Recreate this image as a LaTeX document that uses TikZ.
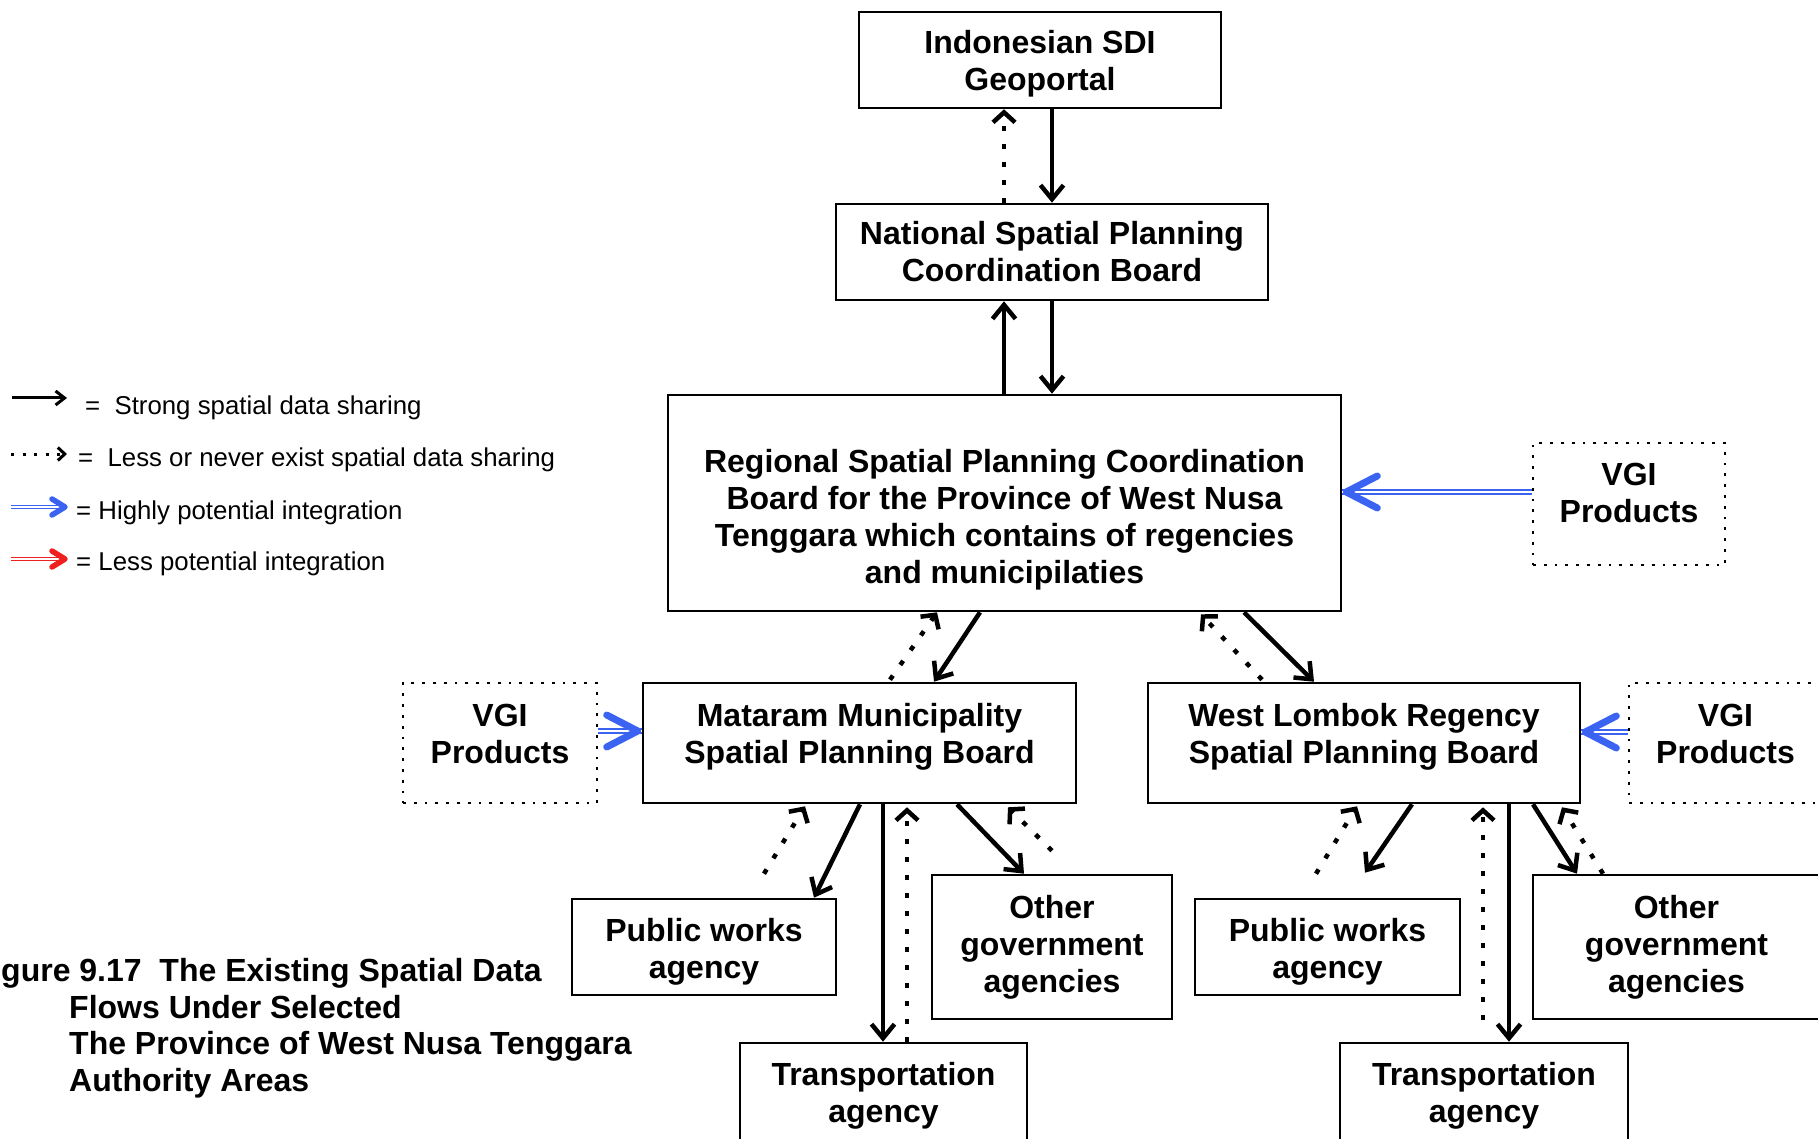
\documentclass[tikz,border=0pt]{standalone}
\usepackage{fontspec}
\setmainfont{Liberation Sans}
\usetikzlibrary{arrows.meta,calc}

\definecolor{vgiblue}{HTML}{3B63F2}
\definecolor{lessred}{HTML}{EE2020}

\newcommand\diagfont{\bfseries\fontsize{32}{37}\selectfont}
\newcommand\legfont{\fontsize{25.8}{30}\selectfont}

\begin{document}
\begin{tikzpicture}[x=1pt,y=-1pt,
  every node/.style={inner sep=0pt},
  box/.style={draw, line width=2.6pt},
  vgibox/.style={draw, line width=2.8pt, dash pattern=on 2.8pt off 8pt},
  lbl/.style={draw=none, align=center, font=\diagfont},
  strong/.style={line width=4.5pt, -{Straight Barb[length=14pt,width=23pt]}},
  weak/.style={line width=4.5pt, dash pattern=on 5pt off 13pt, -{Straight Barb[length=10pt,width=22pt]}},
  vgiline/.style={draw=vgiblue, line width=2pt, double=white, double distance=2pt},
  vgihead/.style={draw=vgiblue, line width=7pt, line cap=round, line join=round},
  legtxt/.style={font=\legfont, anchor=base west},
  captxt/.style={font=\diagfont, anchor=base west},
]
\useasboundingbox (0,0) rectangle (1818,1139);
\fill[white] (0,0) rectangle (1818,1139);

% ---------- organisations ----------
\node[box, minimum width=362pt, minimum height=96pt,
  label={[lbl,yshift=-3.5pt]center:Indonesian SDI\\Geoportal}] (sdi) at (1040,60) {};
\node[box, minimum width=432pt, minimum height=96pt,
  label={[lbl]center:National Spatial Planning\\Coordination Board}] (nat) at (1052,252) {};
\node[box, minimum width=673pt, minimum height=216pt,
  label={[lbl,yshift=-17pt]center:Regional Spatial Planning Coordination\\Board for the Province of West Nusa\\Tenggara which contains of regencies\\and municipilaties}] (reg) at (1004.5,503) {};

\node[box, minimum width=433pt, minimum height=120pt,
  label={[lbl,yshift=6.5pt]center:Mataram Municipality\\Spatial Planning Board}] (mat) at (859.5,743) {};
\node[box, minimum width=432pt, minimum height=120pt,
  label={[lbl,yshift=6.5pt]center:West Lombok Regency\\Spatial Planning Board}] (wlr) at (1364,743) {};

\node[vgibox, minimum width=192pt, minimum height=122pt,
  label={[lbl,yshift=11.5pt]center:VGI\\Products}] (vgiR) at (1629,504) {};
\node[vgibox, minimum width=194pt, minimum height=120pt,
  label={[lbl,yshift=9.5pt]center:VGI\\Products}] (vgiL) at (500,743) {};
\node[vgibox, minimum width=193pt, minimum height=120pt,
  label={[lbl,yshift=9.5pt]center:VGI\\Products}] (vgiS) at (1725.5,743) {};

\node[box, minimum width=264pt, minimum height=96pt,
  label={[lbl,yshift=-4.5pt]center:Public works\\agency}] (pwL) at (704,947) {};
\node[box, minimum width=240pt, minimum height=144pt,
  label={[lbl]center:Other\\government\\agencies}] (ogL) at (1052,947) {};
\node[box, minimum width=287pt, minimum height=98pt,
  label={[lbl,yshift=-3.5pt]center:Transportation\\agency}] (trL) at (883.5,1092) {};

\node[box, minimum width=265pt, minimum height=96pt,
  label={[lbl,yshift=-4.5pt]center:Public works\\agency}] (pwR) at (1327.5,947) {};
\node[box, minimum width=287pt, minimum height=144pt,
  label={[lbl]center:Other\\government\\agencies}] (ogR) at (1676.5,947) {};
\node[box, minimum width=288pt, minimum height=98pt,
  label={[lbl,yshift=-3.5pt]center:Transportation\\agency}] (trR) at (1484,1092) {};

% ---------- national level ----------
\draw[weak] ([xshift=-48pt]nat.north) -- ([xshift=-48pt]nat.north |- sdi.south);
\draw[strong] (sdi.south -| nat.north) -- (nat.north);
\draw[strong] ([xshift=-48pt]nat.south |- reg.north) -- ([xshift=-48pt]nat.south);
\draw[strong] (nat.south) -- (nat.south |- reg.north);

% ---------- province to municipality / regency ----------
\draw[strong] ([xshift=-24.5pt]reg.south) -- ([xshift=74.5pt]mat.north);
\draw[weak] ([xshift=30.5pt,yshift=2pt]mat.north) -- ([xshift=-67.5pt]reg.south);
\draw[strong] ([xshift=239.5pt]reg.south) -- ([xshift=-50pt]wlr.north);
\draw[weak] ([xshift=-102pt,yshift=2pt]wlr.north) -- ([xshift=196.5pt,yshift=-2pt]reg.south);

% ---------- Mataram agencies ----------
\draw[strong] ([xshift=0.5pt]mat.south) -- ([xshift=110pt]pwL.north);
\draw[weak] ([xshift=60pt,yshift=24pt]pwL.north) -- ([xshift=-54.5pt,yshift=-2pt]mat.south);
\draw[strong] ([xshift=23.5pt]mat.south) -- ([xshift=23.5pt]mat.south |- trL.north);
\draw[weak] ([xshift=47.5pt]mat.south |- trL.north) -- ([xshift=47.5pt,yshift=-3pt]mat.south);
\draw[strong] ([xshift=97.5pt]mat.south) -- ([xshift=-28pt]ogL.north);
\draw[weak] ([yshift=23pt]ogL.north) -- ([xshift=148.5pt,yshift=-3pt]mat.south);

% ---------- West Lombok agencies ----------
\draw[strong] ([xshift=48pt]wlr.south) -- ([xshift=37.5pt,yshift=25pt]pwR.north);
\draw[weak] ([xshift=-11.5pt,yshift=24pt]pwR.north) -- ([xshift=-7pt,yshift=-2pt]wlr.south);
\draw[strong] ([xshift=145pt]wlr.south) -- ([xshift=145pt]wlr.south |- trR.north);
\draw[weak] ([xshift=119pt,yshift=22pt]wlr.south |- trR.north) -- ([xshift=119pt,yshift=-3pt]wlr.south);
\draw[strong] ([xshift=169pt]wlr.south) -- ([xshift=-99.5pt]ogR.north);
\draw[weak] ([xshift=-73.5pt]ogR.north) -- ([xshift=198pt,yshift=-3pt]wlr.south);

% ---------- VGI integration ----------
\coordinate (tA) at ([yshift=12pt]vgiR.west -| reg.east);
\draw[vgiline] ([yshift=12pt]vgiR.west) -- (tA);
\draw[vgihead] ($(tA)+(35,-16)$) -- ($(tA)+(4,0)$) -- ($(tA)+(35,16)$);

\coordinate (tB) at ([yshift=12pt]vgiL.east -| mat.west);
\draw[vgiline] ([yshift=12pt]vgiL.east) -- (tB);
\draw[vgihead] ($(tB)+(-35,-16)$) -- ($(tB)+(-4,0)$) -- ($(tB)+(-35,16)$);

\coordinate (tC) at ([yshift=11pt]vgiS.west -| wlr.east);
\draw[vgiline] ([yshift=11pt]vgiS.west) -- (tC);
\draw[vgihead] ($(tC)+(35,-16)$) -- ($(tC)+(4,0)$) -- ($(tC)+(35,16)$);

% ---------- legend ----------
\coordinate (k1a) at (12,398);  \coordinate (k1b) at (67,398);
\coordinate (k2a) at (11,454);  \coordinate (k2b) at (67,454);
\coordinate (k3a) at (11,507);  \coordinate (k3b) at (67,507);
\coordinate (k4a) at (11,559);  \coordinate (k4b) at (67,559);
\draw[line width=3pt, -{Straight Barb[length=9pt,width=14pt]}] (k1a) -- (k1b);
\draw[line width=3pt, dash pattern=on 3pt off 8.5pt, -{Straight Barb[length=7pt,width=13pt]}] (k2a) -- (k2b);
\draw[vgiline, line width=1.6pt, double distance=1.6pt] (k3a) -- ($(k3b)+(-5,0)$);
\draw[draw=vgiblue, line width=5.5pt, line cap=round, line join=round] ($(k3b)+(-15,-8)$) -- ($(k3b)+(-2,0)$) -- ($(k3b)+(-15,8)$);
\draw[draw=lessred, line width=1.6pt, double=white, double distance=1.6pt] (k4a) -- ($(k4b)+(-5,0)$);
\draw[draw=lessred, line width=5.5pt, line cap=round, line join=round] ($(k4b)+(-15,-8)$) -- ($(k4b)+(-2,0)$) -- ($(k4b)+(-15,8)$);

\node[legtxt] (k1t) at (85,414) {=~~Strong spatial data sharing};
\node[legtxt] (k2t) at (78,466) {=~~Less or never exist spatial data sharing};
\node[legtxt] (k3t) at (76,519.5) {= Highly potential integration};
\node[legtxt] (k4t) at (76,570.5) {= Less potential integration};

% ---------- caption ----------
\node[captxt] (cap1) at (1,981.5) {gure 9.17~~The Existing Spatial Data};
\node[captxt] (cap2) at (69,1018) {Flows Under Selected};
\node[captxt] (cap3) at (69,1054.5) {The Province of West Nusa Tenggara};
\node[captxt] (cap4) at (69,1091) {Authority Areas};
\end{tikzpicture}
\end{document}
